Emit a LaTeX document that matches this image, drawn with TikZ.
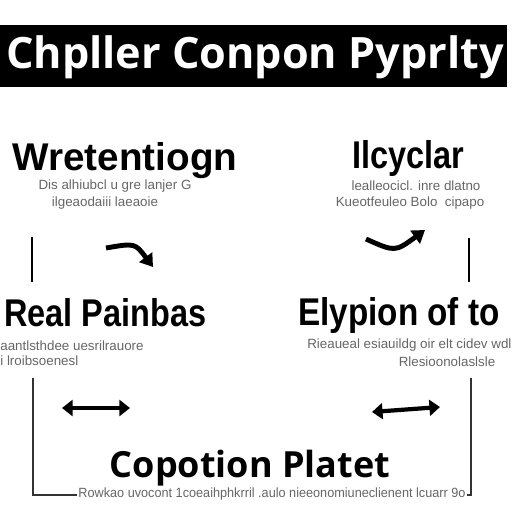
\documentclass[tikz,border=0pt]{standalone}
\usepackage{fontspec}
\setmainfont{Liberation Sans}
\newfontfamily\bannerfont{Open Sans}
\usetikzlibrary{
    arrows.meta,
    positioning
}

\begin{document}
\begin{tikzpicture}[
        x=0.02cm, y=-0.02cm,
        banner/.style={
            fill=black,
            draw=none
        },
        bannertext/.style={
            font=\bannerfont\bfseries\fontsize{24.6}{28}\selectfont,
            text=white,
            inner sep=0pt
        },
        heading/.style={
            font=\bfseries\fontsize{22}{25}\selectfont,
            inner sep=0pt,
            anchor=base
        },
        narrow/.style={
            transform shape,
            xscale=#1
        },
        bigheading/.style={
            font=\bannerfont\bfseries\fontsize{20.5}{24}\selectfont,
            inner sep=0pt,
            anchor=base
        },
        note/.style={
            font=\fontsize{7.6}{9}\selectfont,
            text=black!60,
            inner sep=0pt
        },
        tick/.style={
            line width=1.5pt
        },
        frameline/.style={
            line width=0.8pt,
            black!80
        },
        turn/.style={
            line width=2.8pt,
            -{Triangle[length=7pt,width=9pt]}
        },
        twoway/.style={
            line width=2.4pt,
            {Triangle[length=6pt,width=9pt]}-{Triangle[length=6pt,width=9pt]}
        }
    ]

    \useasboundingbox[fill=white] (0,0) rectangle (512,512);

    % title bar
    \fill[banner] (0,25) rectangle (507,87);
    \node[bannertext] (title) at (255,57) {Chpller Conpon Pyprlty};

    % upper pair
    \node[heading] (wret) at (125,170) {Wretentiogn};
    \node[note] (wretA) at (115,186) {Dis alhiubcl u gre lanjer G};
    \node[note] (wretB) at (105,203) {ilgeaodaiii laeaoie};

    \node[heading, narrow=0.84] (cycl) at (408,168) {Ilcyclar};
    \node[note] (cyclA) at (416,186) {lealleocicl. inre dlatno};
    \node[note] (cyclB) at (410,203) {Kueotfeuleo Bolo \ cipapo};

    % lower pair
    \node[heading, narrow=0.84, anchor=base west] (pain) at (4,326) {Real Painbas};
    \node[note, anchor=west] (painA) at (0,346) {aantlsthdee uesrilrauore};
    \node[note, anchor=west] (painB) at (0,361) {i lroibsoenesl};

    \node[heading, narrow=0.86, anchor=base west] (elyp) at (298,325) {Elypion of to};
    \node[note, anchor=west] (elypA) at (307,345) {Rieaueal esiauildg oir elt cidev wdl};
    \node[note] (elypB) at (447,362) {Rlesioonolaslsle};

    % open frame and bottom
    \coordinate (fl) at (33,378);
    \coordinate (fr) at (471,378);
    \draw[frameline] (fl) -- (33,495) -- (471,495) -- (fr);

    \node[bigheading] (plat) at (250,477) {Copotion Platet};
    \node[note, narrow=0.95, fill=white, inner sep=1pt] (platA) at (272,494)
        {Rowkao uvocont 1coeaihphkrril .aulo nieeonomiuneclienent lcuarr 9o};

    % ticks
    \coordinate (tl1) at (32,237);
    \coordinate (tl2) at (32,282);
    \coordinate (tr1) at (469,238);
    \coordinate (tr2) at (469,282);
    \draw[tick] (tl1) -- (tl2);
    \draw[tick] (tr1) -- (tr2);

    % arrows
    \coordinate (al1) at (106,248);
    \coordinate (al2) at (153,267);
    \draw[turn] (al1) .. controls (135,243) .. (al2);

    \coordinate (ar1) at (366,239);
    \coordinate (ar2) at (425,230);
    \draw[turn] (ar1) .. controls (395,252) .. (ar2);

    \coordinate (dl1) at (62,408);
    \coordinate (dl2) at (130,408);
    \draw[twoway] (dl1) -- (dl2);

    \coordinate (dr1) at (372,412);
    \coordinate (dr2) at (440,407);
    \draw[twoway] (dr1) -- (dr2);

\end{tikzpicture}
\end{document}
